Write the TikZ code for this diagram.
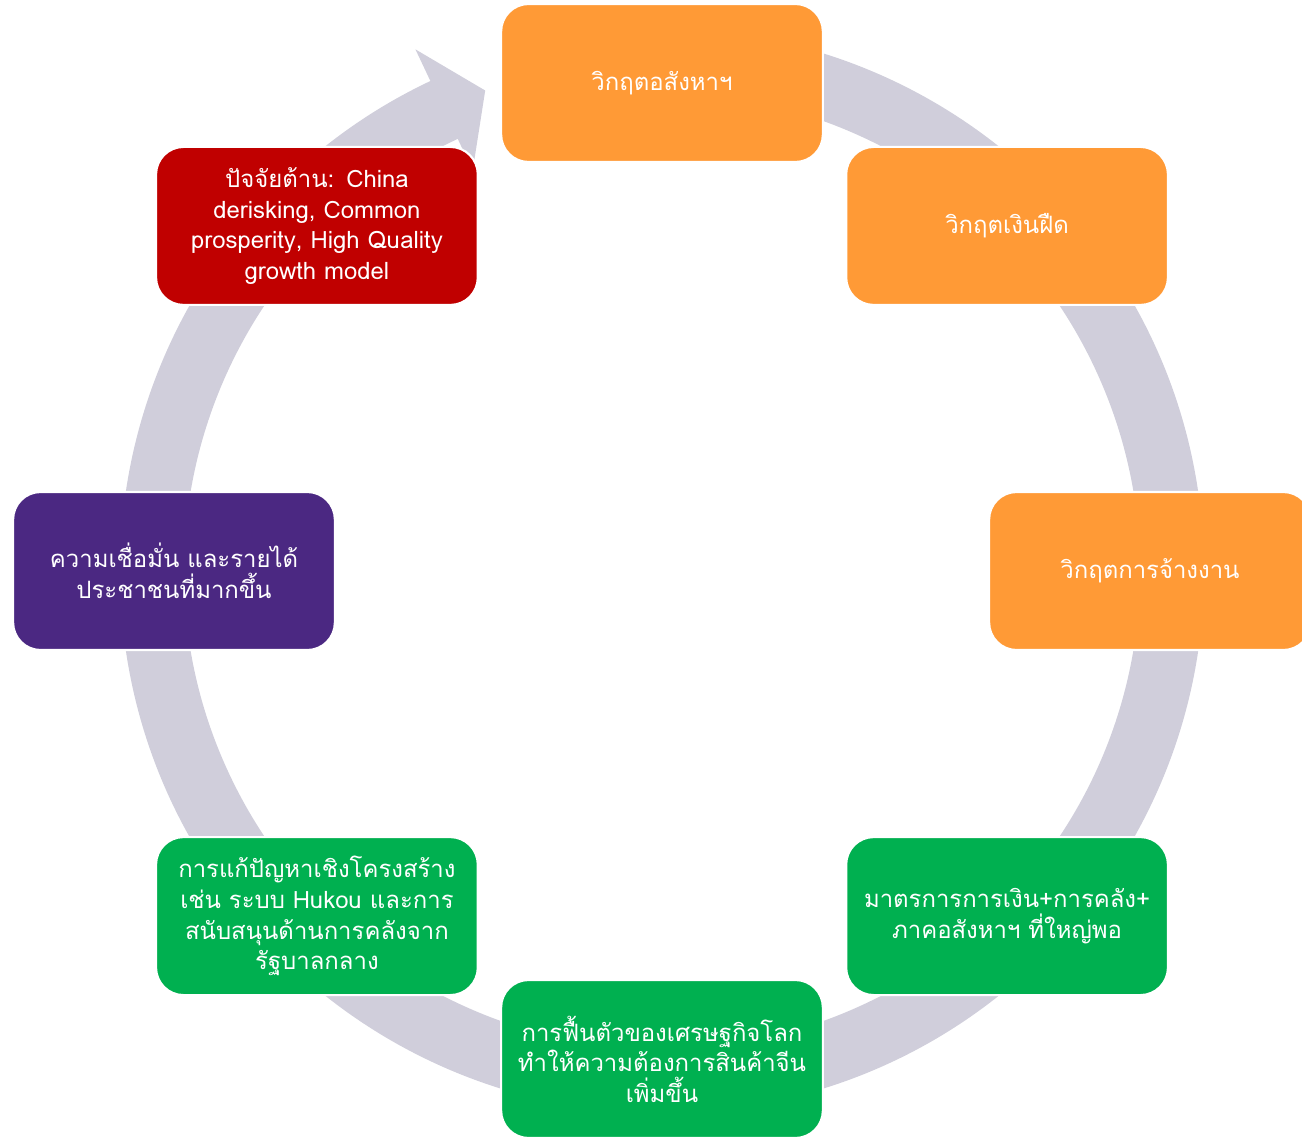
\documentclass[tikz,border=0pt]{standalone}
\usepackage{fontspec}
\newfontfamily\thaifont[Script=Thai]{Loma}
\definecolor{ringgrey}{RGB}{208, 206, 219}
\definecolor{crisisorange}{RGB}{255, 154, 54}
\definecolor{policygreen}{RGB}{0, 176, 80}
\definecolor{peoplepurple}{RGB}{75, 40, 130}
\definecolor{headwindred}{RGB}{192, 0, 0}
\usepackage{tikz}
\tikzset{
  stagebox/.style={draw=white, line width=1.2pt, rounded corners=0.55cm,
    minimum width=6.4cm, minimum height=3.16cm, text width=6.2cm, align=center,
    text=white, font=\thaifont\fontsize{13.6}{17.4}\selectfont},
}

\begin{document}
\begin{tikzpicture}
  \useasboundingbox (-13.24, -11.32) rectangle (12.8, 11.42);

  % Grey cycle arrow
  \fill[ringgrey] (95:10.84) arc[start angle=95, end angle=-244.7, radius=10.84]
    -- (-244.7:11.54) -- (-249.8:10.24) -- (-244.7:8.86) -- (-244.7:9.56)
    arc[start angle=-244.7, end angle=95, radius=9.56] -- cycle;

  % Crisis stages
  \node[stagebox, fill=crisisorange] (realestate) at (90:9.76) {วิกฤตอสังหาฯ};
  \node[stagebox, fill=crisisorange] (deflation) at (45:9.76) {วิกฤตเงินฝืด};
  \node[stagebox, fill=crisisorange] (jobs) at (0:9.76) {วิกฤตการจ้างงาน};

  % Way out
  \node[stagebox, fill=policygreen] (stimulus) at (-45:9.76) {มาตรการการเงิน+การคลัง+\\ภาคอสังหาฯ ที่ใหญ่พอ};
  \node[stagebox, fill=policygreen] (recovery) at (-90:9.76) {การฟื้นตัวของเศรษฐกิจโลก\\ทำให้ความต้องการสินค้าจีน\\เพิ่มขึ้น};
  \node[stagebox, fill=policygreen] (reform) at (-135:9.76) {การแก้ปัญหาเชิงโครงสร้าง\\เช่น ระบบ Hukou และการ\\สนับสนุนด้านการคลังจาก\\รัฐบาลกลาง};
  \node[stagebox, fill=peoplepurple] (confidence) at (180:9.76) {ความเชื่อมั่น และรายได้\\ประชาชนที่มากขึ้น};

  % Headwinds
  \node[stagebox, fill=headwindred] (headwind) at (135:9.76) {ปัจจัยต้าน: China\\derisking, Common\\prosperity, High Quality\\growth model};
\end{tikzpicture}
\end{document}
